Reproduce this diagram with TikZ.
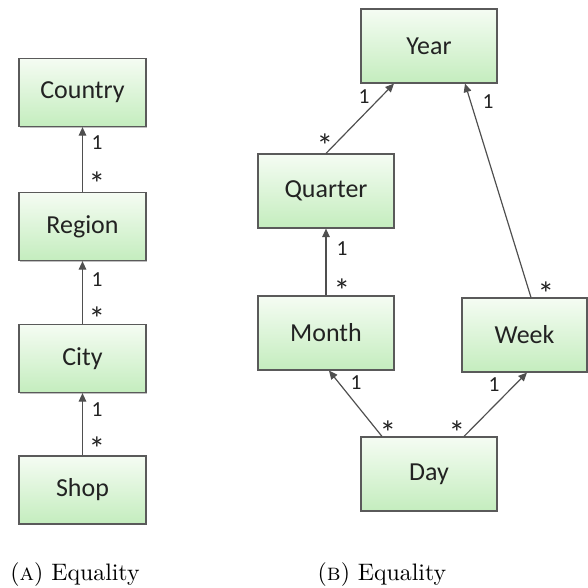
\documentclass[tikz,border=0pt]{standalone}
\usepackage{fontspec}
\newfontfamily\boxfont{Carlito}
\usetikzlibrary{arrows.meta,calc,shadows}
\definecolor{edgegray}{HTML}{5A5A5A}
\definecolor{linegray}{HTML}{4F4F4F}
\definecolor{txtgray}{HTML}{222222}
\definecolor{greentop}{HTML}{F5FCF3}
\definecolor{greenbot}{HTML}{C4EDBE}
\tikzset{
  entity/.style={draw=edgegray, line width=0.5pt, rectangle,
    top color=greentop, bottom color=greenbot,
    drop shadow={shadow xshift=0.5pt, shadow yshift=-0.6pt, fill=black, opacity=0.25},
    font=\boxfont\fontsize{10.9}{12}\selectfont, text=txtgray,
    inner sep=0pt},
  leftbox/.style={entity, minimum width=127*0.42pt, minimum height=68*0.42pt},
  rightbox/.style={entity, minimum width=136*0.42pt, minimum height=74*0.42pt},
  weekbox/.style={entity, minimum width=125*0.42pt, minimum height=74*0.42pt},
  link/.style={draw=linegray, line width=0.5pt,
    -{Triangle[length=3.6pt,width=3.2pt]}},
  mult/.style={font=\boxfont\fontsize{9}{10}\selectfont, text=txtgray, inner sep=0pt},
  many/.style={font=\boxfont\fontsize{14}{14}\selectfont, text=txtgray, inner sep=0pt,
    yshift=-2.2pt},
  captext/.style={font=\fontsize{10}{12}\selectfont, anchor=base, inner sep=0pt}
}
\begin{document}
\begin{tikzpicture}[x=0.42pt, y=-0.42pt]
\useasboundingbox (0,0) rectangle (588,588);

% (a) geographic hierarchy
\node[leftbox] (country) at (82.5,92.5) {Country};
\node[leftbox] (region)  at (82.5,226.5) {Region};
\node[leftbox] (city)    at (82.5,358.5) {City};
\node[leftbox] (shop)    at (82.5,490) {Shop};

\draw[link] (region.north) -- (country.south);
\draw[link] (city.north) -- (region.south);
\draw[link] (shop.north) -- (city.south);

\node[mult] (m1a) at (97,143) {1};
\node[many] (m1b) at (97,178) {*};
\node[mult] (m2a) at (97,280) {1};
\node[many] (m2b) at (97,313) {*};
\node[mult] (m3a) at (97,410) {1};
\node[many] (m3b) at (97,443) {*};

% (b) calendar hierarchy
\node[rightbox] (year)    at (429,46)  {Year};
\node[rightbox] (quarter) at (326,191) {Quarter};
\node[rightbox] (month)   at (326,333) {Month};
\node[weekbox]  (week)    at (524.5,335) {Week};
\node[rightbox] (day)     at (429,474) {Day};

\coordinate (yq) at ($(year.south)+(-35,0)$);
\coordinate (yw) at ($(year.south)+(36,0)$);
\coordinate (wt) at ($(week.north)+(6.5,0)$);
\coordinate (dm) at ($(day.north)+(-47,0)$);
\coordinate (dw) at ($(day.north)+(35,0)$);
\coordinate (mb) at ($(month.south)+(3,0)$);
\coordinate (wb) at ($(week.south)+(2.5,0)$);

\draw[link] (quarter.north) -- (yq);
\draw[link] (wt) -- (yw);
\draw[link] (month.north) -- (quarter.south);
\draw[link] (dm) -- (mb);
\draw[link] (dw) -- (wb);

\node[mult] (n1a) at (364,97)  {1};
\node[many] (n1b) at (325,140) {*};
\node[mult] (n2a) at (488,102) {1};
\node[many] (n2b) at (546,288) {*};
\node[mult] (n3a) at (342,249) {1};
\node[many] (n3b) at (342,285) {*};
\node[mult] (n4a) at (356,383) {1};
\node[many] (n4b) at (388,427) {*};
\node[mult] (n5a) at (494,385) {1};
\node[many] (n5b) at (457,427) {*};

% sub-captions
\node[captext] (capa) at (75,580)  {(\textsc{a}) Equality};
\node[captext] (capb) at (382,580) {(\textsc{b}) Equality};
\end{tikzpicture}
\end{document}
